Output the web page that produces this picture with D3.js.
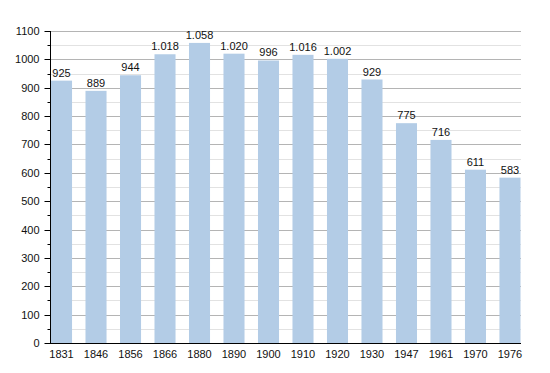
<!DOCTYPE html>
<html lang="en">
<head>
  <meta charset="UTF-8">
  <title>Population</title>
  <script src="https://d3js.org/d3.v7.min.js"></script>
  <style>
    body {
      margin: 0;
      background-color: #fff;
      font-family: "Liberation Sans", Arial, sans-serif;
    }
    text {
      font-size: 11px;
      fill: #111;
    }
  </style>
</head>
<body>
<div id="chart"></div>
<script>
  const years = ["1831", "1846", "1856", "1866", "1880", "1890", "1900", "1910", "1920", "1930", "1947", "1961", "1970", "1976"];
  const population = [925, 889, 944, 1018, 1058, 1020, 996, 1016, 1002, 929, 775, 716, 611, 583];
  const yTicks = [0, 100, 200, 300, 400, 500, 600, 700, 800, 900, 1000, 1100];

  const width = 550;
  const height = 373;
  const plotLeft = 50, plotRight = 521, plotTop = 31, plotBottom = 343;

  const svg = d3.select("#chart")
    .append("svg")
    .attr("width", width)
    .attr("height", height);

  const x = d3.scaleBand()
    .domain(years)
    .range([51, 520.5])
    .paddingInner(0.39)
    .paddingOuter(0);

  const y = d3.scaleLinear()
    .domain([0, 1100])
    .range([plotBottom, plotTop]);

  // minor gridlines every 50
  const minor = d3.range(50, 1100, 100);
  svg.append("g")
    .selectAll("line")
    .data(minor)
    .enter()
    .append("line")
    .attr("x1", plotLeft).attr("x2", plotRight)
    .attr("y1", d => Math.round(y(d)) + 0.5)
    .attr("y2", d => Math.round(y(d)) + 0.5)
    .attr("stroke", "#e2e2e2");

  svg.append("g")
    .selectAll("line")
    .data(yTicks.slice(1))
    .enter()
    .append("line")
    .attr("x1", plotLeft).attr("x2", plotRight)
    .attr("y1", d => Math.round(y(d)) + 0.5)
    .attr("y2", d => Math.round(y(d)) + 0.5)
    .attr("stroke", "#b4b4b4");

  const data = years.map((yr, i) => ({ year: yr, value: population[i] }));

  svg.append("g")
    .selectAll("rect")
    .data(data)
    .enter()
    .append("rect")
    .attr("x", d => x(d.year))
    .attr("width", x.bandwidth())
    .attr("y", d => y(d.value))
    .attr("height", d => y(0) - y(d.value))
    .attr("fill", "#b3cce6");

  const fmt = v => v >= 1000 ? d3.format(",")(v).replace(",", ".") : String(v);

  svg.append("g")
    .selectAll("text")
    .data(data)
    .enter()
    .append("text")
    .attr("x", d => x(d.year) + x.bandwidth() / 2)
    .attr("y", d => y(d.value) - 4)
    .attr("text-anchor", "middle")
    .text(d => fmt(d.value));

  // y axis
  const yAxis = svg.append("g")
    .attr("transform", `translate(${plotLeft + 0.5},0)`);
  yAxis.append("line")
    .attr("y1", plotTop).attr("y2", plotBottom)
    .attr("stroke", "#000");
  yAxis.selectAll(".major")
    .data(yTicks)
    .enter()
    .append("line")
    .attr("x1", -6).attr("x2", 0)
    .attr("y1", d => Math.round(y(d)) + 0.5)
    .attr("y2", d => Math.round(y(d)) + 0.5)
    .attr("stroke", "#000");
  yAxis.selectAll(".minor")
    .data(minor)
    .enter()
    .append("line")
    .attr("x1", -3).attr("x2", 0)
    .attr("y1", d => Math.round(y(d)) + 0.5)
    .attr("y2", d => Math.round(y(d)) + 0.5)
    .attr("stroke", "#000");
  yAxis.selectAll("text")
    .data(yTicks)
    .enter()
    .append("text")
    .attr("x", -11)
    .attr("y", d => y(d) + 4)
    .attr("text-anchor", "end")
    .text(d => d);

  // x axis
  svg.append("line")
    .attr("x1", plotLeft).attr("x2", plotRight)
    .attr("y1", plotBottom + 0.5).attr("y2", plotBottom + 0.5)
    .attr("stroke", "#000");

  svg.append("g")
    .selectAll("text")
    .data(years)
    .enter()
    .append("text")
    .attr("x", d => x(d) + x.bandwidth() / 2)
    .attr("y", 358)
    .attr("text-anchor", "middle")
    .text(d => d);
</script>
</body>
</html>
